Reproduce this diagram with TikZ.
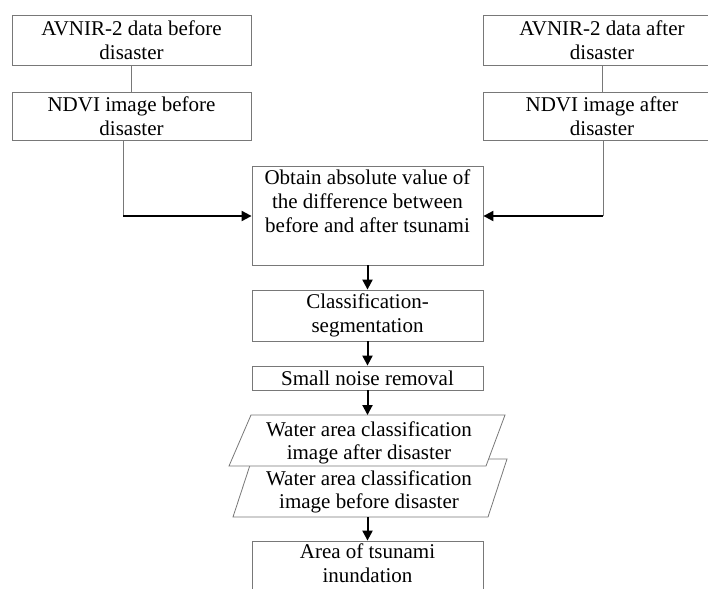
\documentclass[tikz,border=0pt]{standalone}
\usepackage{fontspec}
\setmainfont{Liberation Serif}
\usetikzlibrary{arrows.meta}
\begin{document}
\begin{tikzpicture}[x=1pt,y=-1pt,
  box/.style={draw=boxgray,line width=0.8pt,fill=white,inner sep=0pt,align=center,
    font=\fontsize{21}{24}\selectfont},
  txt/.style={inner sep=0pt,align=center,font=\fontsize{21}{22.5}\selectfont},
  thin/.style={draw=boxgray,line width=0.8pt},
  arr/.style={draw=black,line width=2pt,-{Triangle[length=10pt,width=10pt]}},
  para/.style={draw=boxgray,line width=0.8pt,fill=white}]
\definecolor{boxgray}{RGB}{120,120,120}
\useasboundingbox (0,0) rectangle (708,588);
\clip (0,0) rectangle (708,588);
% left column
\node[box,minimum width=239pt,minimum height=50pt] (a1) at (131.5,40) {AVNIR-2 data before\\disaster};
\node[box,minimum width=239pt,minimum height=48pt] (n1) at (131.5,116) {NDVI image before\\disaster};
% right column
\node[box,minimum width=238pt,minimum height=50pt] (a2) at (602,40) {AVNIR-2 data after\\disaster};
\node[box,minimum width=238pt,minimum height=48pt] (n2) at (602,116) {NDVI image after\\disaster};
% center column
\node[box,minimum width=231pt,minimum height=99pt] (ob) at (367.5,215.5) {Obtain absolute value of\\the difference between\\before and after tsunami\\[-3pt]\strut};
\node[box,minimum width=231pt,minimum height=51pt] (cl) at (367.5,315.5) {Classification-\\segmentation};
\node[box,minimum width=231pt,minimum height=24pt] (sn) at (367.5,378) {Small noise removal};
% parallelograms
\coordinate (p2tl) at (252,459);
\coordinate (p2tr) at (507,459);
\coordinate (p2br) at (488,517);
\coordinate (p2bl) at (233,517);
\path[para] (p2tl) -- (p2tr) -- (p2br) -- (p2bl) -- cycle;
\coordinate (p1tl) at (251,415);
\coordinate (p1tr) at (505,415);
\coordinate (p1br) at (486,466);
\coordinate (p1bl) at (229,466);
\path[para] (p1tl) -- (p1tr) -- (p1br) -- (p1bl) -- cycle;
\node[txt] (w1) at (369,443) {Water area classification\\image after disaster};
\node[txt] (w2) at (369,492) {Water area classification\\image before disaster};
\coordinate (p1top) at (367.5,415);
\coordinate (p2bot) at (367.5,517);
\node[box,minimum width=231pt,minimum height=66pt] (fi) at (367.5,574) {Area of tsunami\\inundation\\[-10pt]\strut};
% connectors
\draw[thin] (a1) -- (n1);
\draw[thin] (a2) -- (n2);
\coordinate (lc) at (123,216);
\coordinate (rc) at (603,216);
\draw[thin] (n1.south -| lc) -- (lc);
\draw[thin] (n2.south -| rc) -- (rc);
\draw[arr] (lc) -- (lc -| ob.west);
\draw[arr] (rc) -- (rc -| ob.east);
\draw[arr] (ob) -- (cl);
\draw[arr] (cl) -- (sn);
\draw[arr] (sn.south) -- (p1top);
\draw[arr] (p2bot) -- (fi.north);
\end{tikzpicture}
\end{document}
